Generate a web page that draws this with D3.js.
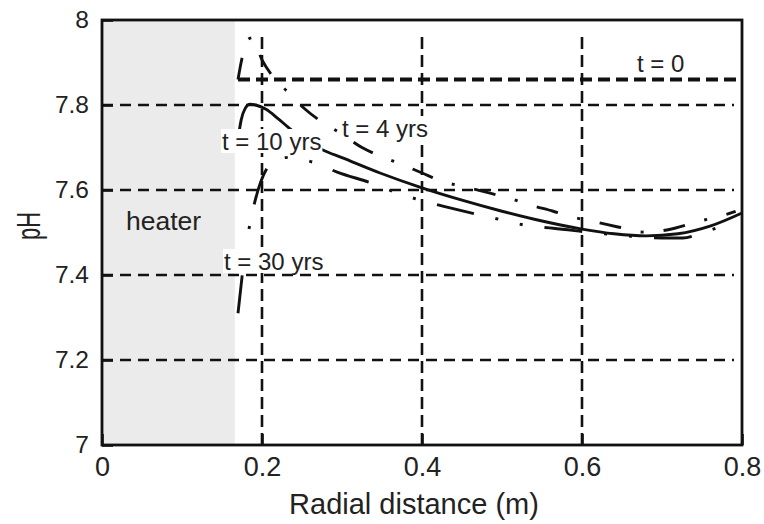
<!DOCTYPE html>
<html><head><meta charset="utf-8">
<script src="https://cdn.jsdelivr.net/npm/d3@7"></script>
<style>body{margin:0;background:#fff}svg{display:block;font-family:"Liberation Sans",Arial,sans-serif}</style>
</head><body>
<svg id="c" width="764" height="524"></svg>
<script>
// ---- data ----
const xTicks = [0, 0.2, 0.4, 0.6, 0.8];
const yTicks = [7, 7.2, 7.4, 7.6, 7.8, 8];
const gridX = [0.2, 0.4, 0.6];
const gridY = [7.2, 7.4, 7.6, 7.8];
const heaterRadius = 0.166;
const t0Line = [[0.17, 7.86], [0.8, 7.86]];
const t4 = [[0.170,7.860],[0.175,7.910],[0.183,7.955],[0.188,7.958],[0.200,7.906],[0.214,7.866],[0.2325,7.830],[0.254,7.790],[0.275,7.760],[0.297,7.735],[0.325,7.700],[0.3475,7.680],[0.375,7.660],[0.400,7.640],[0.426,7.620],[0.454,7.607],[0.480,7.595],[0.510,7.580],[0.535,7.565],[0.564,7.550],[0.589,7.536],[0.616,7.525],[0.645,7.513],[0.676,7.501],[0.706,7.506],[0.7475,7.527],[0.776,7.540],[0.792,7.550]];
const t10 = [[0.170,7.720],[0.174,7.765],[0.179,7.792],[0.185,7.802],[0.192,7.800],[0.205,7.790],[0.220,7.768],[0.2325,7.748],[0.250,7.722],[0.276,7.694],[0.300,7.676],[0.3475,7.640],[0.400,7.605],[0.450,7.576],[0.500,7.550],[0.550,7.527],[0.600,7.508],[0.640,7.497],[0.680,7.492],[0.720,7.497],[0.760,7.515],[0.800,7.546]];
const t30 = [[0.170,7.310],[0.175,7.395],[0.184,7.511],[0.191,7.572],[0.2065,7.652],[0.220,7.672],[0.235,7.677],[0.250,7.672],[0.266,7.664],[0.294,7.642],[0.3375,7.616],[0.366,7.595],[0.426,7.562],[0.4725,7.541],[0.501,7.529],[0.535,7.515],[0.564,7.510],[0.6125,7.500],[0.650,7.493],[0.700,7.487],[0.726,7.487],[0.751,7.500],[0.770,7.512]];
const seriesLabels = ["t = 0", "t = 4 yrs", "t = 10 yrs", "t = 30 yrs"];

// ---- chart ----
const svg = d3.select("#c");
const x = d3.scaleLinear().domain([0, 0.8]).range([102, 742]);
const y = d3.scaleLinear().domain([7, 8]).range([445, 20]);
const ink = "#111";
const txt = "#222";

// heater
svg.append("rect").attr("x", x(0)).attr("y", y(8))
  .attr("width", x(heaterRadius) - x(0)).attr("height", y(7) - y(8))
  .attr("fill", "#ebebeb");
svg.append("text").attr("x", 126).attr("y", 230).attr("font-size", 26.5).attr("fill", txt).text("heater");

// grid
svg.append("g").selectAll("line").data(gridY).join("line")
  .attr("x1", x(0)).attr("x2", x(0.79)).attr("y1", d => y(d)).attr("y2", d => y(d))
  .attr("stroke", ink).attr("stroke-width", 2.6).attr("stroke-dasharray", "11,7");
svg.append("g").selectAll("line").data(gridX).join("line")
  .attr("x1", d => x(d)).attr("x2", d => x(d)).attr("y1", y(7)).attr("y2", 31)
  .attr("stroke", ink).attr("stroke-width", 2.6).attr("stroke-dasharray", "12,6");

// curves
const line = d3.line().x(d => x(d[0])).y(d => y(d[1])).curve(d3.curveMonotoneX);
svg.append("path").attr("d", line(t0Line)).attr("fill", "none").attr("stroke", ink)
  .attr("stroke-width", 4).attr("stroke-dasharray", "12,6");
svg.append("path").attr("d", line(t4)).attr("fill", "none").attr("stroke", ink)
  .attr("stroke-width", 2.9).attr("stroke-dasharray", "22,20,3,20");
svg.append("path").attr("d", line(t10)).attr("fill", "none").attr("stroke", ink)
  .attr("stroke-width", 2.9);
svg.append("path").attr("d", line(t30)).attr("fill", "none").attr("stroke", ink)
  .attr("stroke-width", 2.9).attr("stroke-dasharray", "38,22,3,22,3,22");

// labels with white background
const labelPos = [[637, 72, false], [342, 137, true], [222, 150, true], [224, 270, true]];
seriesLabels.forEach((s, i) => {
  const [lx, ly, bg] = labelPos[i];
  const g = svg.append("g");
  const r = g.append("rect").attr("fill", "#fff");
  const t = g.append("text").attr("x", lx).attr("y", ly).attr("font-size", 24).attr("fill", txt).text(s);
  if (bg) {
    const b = t.node().getBBox();
    r.attr("x", b.x - 1).attr("y", b.y + 1).attr("width", b.width + 2).attr("height", b.height - 3);
  }
});

// axes
const yAxis = svg.append("g").attr("transform", `translate(${x(0)},0)`)
  .call(d3.axisLeft(y).tickValues(yTicks).tickSize(-11).tickPadding(13).tickFormat(d3.format("")));
const xAxis = svg.append("g").attr("transform", `translate(0,${y(7)})`)
  .call(d3.axisBottom(x).tickValues(xTicks).tickSize(-11).tickPadding(12).tickFormat(d3.format("")));
[yAxis, xAxis].forEach(a => {
  a.select(".domain").remove();
  a.selectAll(".tick line").attr("stroke", ink).attr("stroke-width", 2.6);
  a.selectAll(".tick text").attr("fill", txt).attr("font-family", '"Liberation Sans",Arial,sans-serif');
});
yAxis.selectAll(".tick text").attr("font-size", 24.5);
xAxis.selectAll(".tick text").attr("font-size", 27);

// frame
svg.append("rect").attr("x", x(0)).attr("y", y(8)).attr("width", x(0.8) - x(0)).attr("height", y(7) - y(8))
  .attr("fill", "none").attr("stroke", ink).attr("stroke-width", 2.8);

// titles
svg.append("text").attr("x", 414).attr("y", 514).attr("text-anchor", "middle")
  .attr("font-size", 29).attr("fill", txt).text("Radial distance (m)");
svg.append("text").attr("transform", "translate(40,226) rotate(-90)").attr("text-anchor", "middle")
  .attr("font-size", 33).attr("fill", txt).attr("textLength", 28).attr("lengthAdjust", "spacingAndGlyphs").text("pH");
</script>
</body></html>
